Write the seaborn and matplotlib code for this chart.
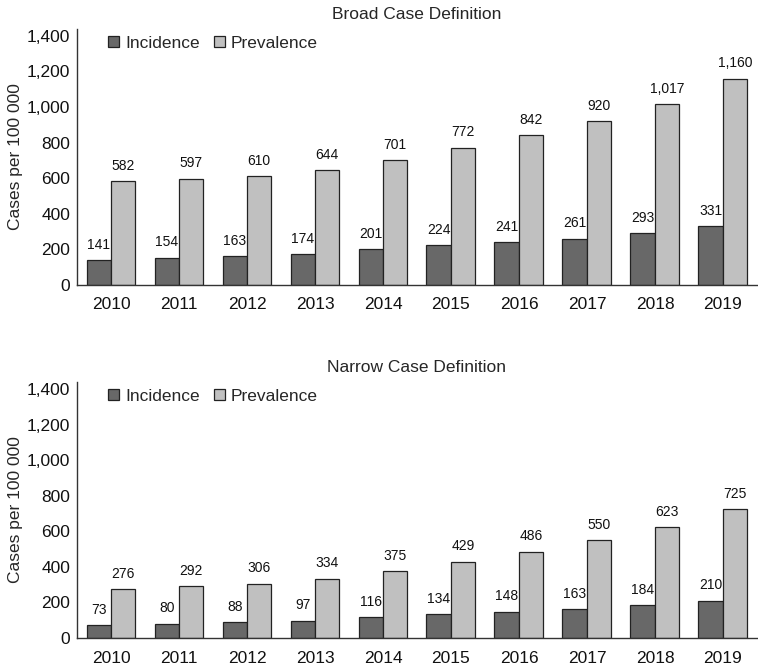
import numpy as np
import pandas as pd
import matplotlib
matplotlib.use('Agg')
import matplotlib.pyplot as plt
import seaborn as sns

years = [str(y) for y in range(2010, 2020)]
broad_incidence = [141, 154, 163, 174, 201, 224, 241, 261, 293, 331]
broad_prevalence = [582, 597, 610, 644, 701, 772, 842, 920, 1017, 1160]
narrow_incidence = [73, 80, 88, 97, 116, 134, 148, 163, 184, 210]
narrow_prevalence = [276, 292, 306, 334, 375, 429, 486, 550, 623, 725]
titles = ['Broad Case Definition', 'Narrow Case Definition']
yticks = [0, 200, 400, 600, 800, 1000, 1200, 1400]

sns.set_style('white')
plt.rcParams['font.family'] = ['Liberation Sans', 'DejaVu Sans']

palette = {'Incidence': '#686868', 'Prevalence': '#c0c0c0'}


def make_df(inc, prev):
    return pd.DataFrame({
        'Year': years * 2,
        'Measure': ['Incidence'] * len(years) + ['Prevalence'] * len(years),
        'Cases': inc + prev,
    })


fig = plt.figure(figsize=(7.58, 6.69), dpi=100)
ax_top = fig.add_axes([0.1016, 0.574, 0.897, 0.383])
ax_bot = fig.add_axes([0.1016, 0.0463, 0.897, 0.383])

data = [(broad_incidence, broad_prevalence), (narrow_incidence, narrow_prevalence)]

for ax, (inc, prev), title in zip([ax_top, ax_bot], data, titles):
    df = make_df(inc, prev)
    sns.barplot(data=df, x='Year', y='Cases', hue='Measure', palette=palette,
                width=0.72, edgecolor='#222222', linewidth=0.9, saturation=1,
                ax=ax)
    for cont in ax.containers:
        ax.bar_label(cont, labels=[f'{v:,.0f}' for v in cont.datavalues],
                     padding=6, fontsize=10, color='#111111')
    ax.set_ylim(0, 1440)
    ax.set_xlim(-0.5, 9.5)
    ax.set_yticks(yticks)
    ax.set_yticklabels([f'{t:,}' for t in yticks])
    ax.tick_params(axis='both', length=0, labelsize=12.5, colors='#111111')
    ax.tick_params(axis='x', pad=9)
    ax.tick_params(axis='y', pad=5)
    ax.set_xlabel('')
    ax.set_ylabel('Cases per 100 000', fontsize=12.5, labelpad=3)
    ax.set_title(title, fontsize=12.5, pad=7)
    for side in ['top', 'right']:
        ax.spines[side].set_visible(False)
    for side in ['left', 'bottom']:
        ax.spines[side].set_color('#333333')
        ax.spines[side].set_linewidth(1.0)
    ax.legend(loc='upper left', bbox_to_anchor=(0.035, 1.0), ncol=2,
              frameon=False, fontsize=12.5, handlelength=0.65,
              handleheight=0.65, handletextpad=0.35, columnspacing=0.8,
              borderaxespad=0)

fig.savefig('out.png', dpi=100)
